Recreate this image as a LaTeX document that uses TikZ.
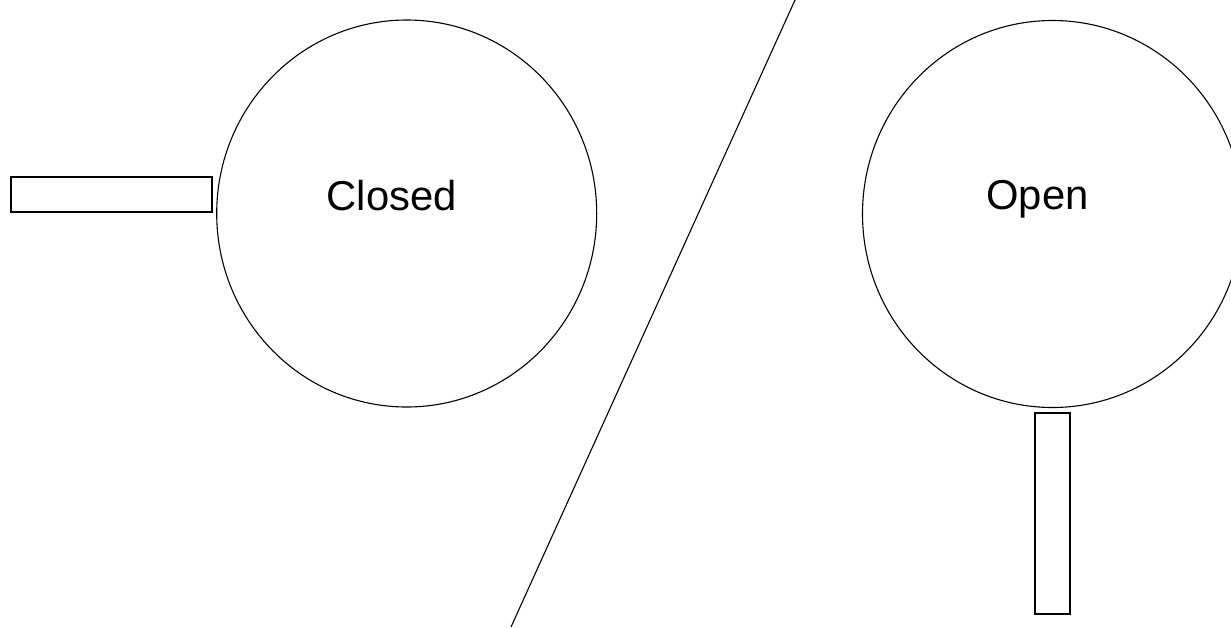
\documentclass[tikz,border=0pt]{standalone}
\usepackage{fontspec}
\setmainfont{Liberation Sans}
\usetikzlibrary{shapes.geometric,positioning}

\begin{document}
\begin{tikzpicture}[x=1pt,y=-1pt,
  body/.style={draw,ellipse,line width=1.1pt,minimum width=380pt,minimum height=387pt,inner sep=0pt},
  stem/.style={draw,line width=1.6pt,inner sep=0pt},
  lbl/.style={anchor=base,font=\fontsize{41.8}{50}\selectfont}]
  \useasboundingbox (0,0) rectangle (1231,627);
  % closed valve
  \node[body] (closed) at (406.7,213.5) {};
  \node[lbl] (closedlbl) at (391.7,210) {Closed};
  \node[stem,minimum width=201pt,minimum height=35pt] (closedstem) at (111.5,194.5) {};
  % divider
  \coordinate (divtop) at (795,0);
  \coordinate (divbot) at (511,627);
  \draw[line width=1.1pt] (divtop) -- (divbot);
  % open valve
  \node[body] (open) at (1052.5,214) {};
  \node[lbl] (openlbl) at (1037.5,209) {Open};
  \node[stem,minimum width=35pt,minimum height=201pt] (openstem) at (1052.5,513.5) {};
\end{tikzpicture}
\end{document}
